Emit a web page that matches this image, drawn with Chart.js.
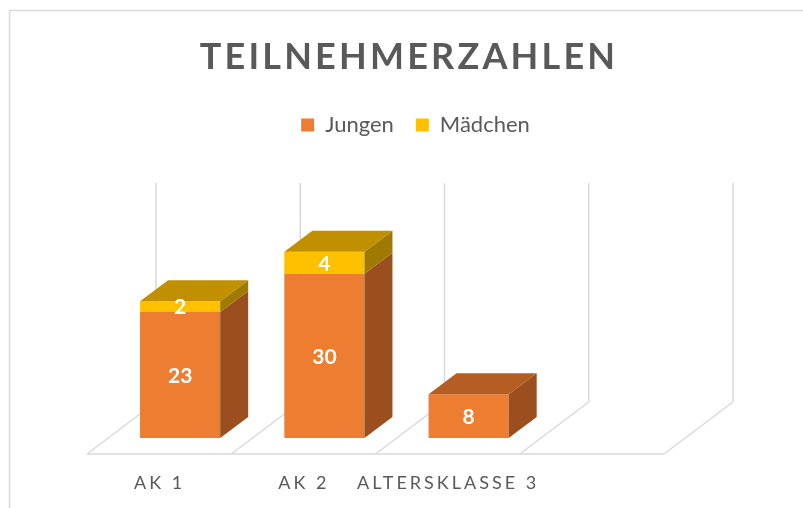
<!DOCTYPE html>
<html>
<head>
<meta charset="utf-8">
<script src="https://cdn.jsdelivr.net/npm/chart.js@4/dist/chart.umd.min.js"></script>
<style>
  html, body { margin: 0; padding: 0; background: #fff; }
  canvas { display: block; }
</style>
</head>
<body>
<canvas id="c" width="803" height="508"></canvas>
<script>
// data
const TITLE = 'TEILNEHMERZAHLEN';
const categories = ['AK 1', 'AK 2', 'ALTERSKLASSE 3', ''];
const seriesNames = ['Jungen', 'Mädchen'];
const jungen = [23, 30, 8, null];
const maedchen = [2, 4, null, null];
const valueMax = 40;

// look
const FONT = 'Lato, "Open Sans", sans-serif';
const TEXT = '#595959';
const LINE = '#d9d9d9';
const FRONT = ['#ed7d31', '#ffc000'];
const SHADE = [
  { side: '#9c4f1e', top: '#b55d22' },
  { side: '#a07900', top: '#c09000' },
];
// oblique projection for the fake 3D look (offsets from the bar front plane)
const DEPTH = { x: 28, y: -21 };  // bar back
const FLOOR = { x: -21, y: 16 };  // floor front edge
const WALL = { x: 48, y: -36 };   // back wall

function poly(ctx, pts, color) {
  ctx.beginPath();
  ctx.moveTo(pts[0][0], pts[0][1]);
  for (let i = 1; i < pts.length; i++) ctx.lineTo(pts[i][0], pts[i][1]);
  ctx.closePath();
  ctx.fillStyle = color;
  ctx.fill();
}

const fake3d = {
  id: 'fake3d',
  beforeInit(chart) {
    // leave room between legend and plot
    const fit = chart.legend.fit;
    chart.legend.fit = function () { fit.call(this); this.height += 73; };
  },
  afterLayout(chart) {
    // legend sits a bit right of the plot centre
    chart.legend.left += 19;
    chart.legend.right += 19;
  },
  beforeDraw(chart) {
    const { ctx } = chart;
    ctx.save();
    ctx.strokeStyle = LINE;
    ctx.lineWidth = 1.5;
    ctx.beginPath();
    ctx.moveTo(9.5, chart.height + 5);
    ctx.lineTo(9.5, 10.5);
    ctx.lineTo(chart.width + 5, 10.5);
    ctx.stroke();

    ctx.font = `bold 36px ${FONT}`;
    ctx.fillStyle = TEXT;
    ctx.textAlign = 'center';
    ctx.textBaseline = 'middle';
    ctx.letterSpacing = '3.2px';
    ctx.fillText(TITLE, 409, 57);
    ctx.restore();
  },
  beforeDatasetsDraw(chart) {
    const { ctx, chartArea: a, scales: { x, y } } = chart;
    const step = x.getPixelForValue(1) - x.getPixelForValue(0);
    const base = y.getPixelForValue(0);
    const top = y.getPixelForValue(valueMax);
    ctx.save();
    ctx.strokeStyle = LINE;
    ctx.lineWidth = 1.5;
    ctx.beginPath();
    for (let i = 0; i <= categories.length; i++) {
      const bx = x.getPixelForValue(0) - step / 2 + i * step;
      ctx.moveTo(bx + FLOOR.x, base + FLOOR.y);
      ctx.lineTo(bx + WALL.x, base + WALL.y);
      ctx.lineTo(bx + WALL.x, top + WALL.y);
    }
    ctx.moveTo(a.left + FLOOR.x, base + FLOOR.y);
    ctx.lineTo(a.right + FLOOR.x, base + FLOOR.y);
    ctx.stroke();

    // category labels along the floor's front edge
    ctx.font = `18px ${FONT}`;
    ctx.fillStyle = TEXT;
    ctx.textAlign = 'center';
    ctx.textBaseline = 'middle';
    ctx.letterSpacing = '3px';
    categories.forEach((c, i) => {
      ctx.fillText(c, x.getPixelForValue(i) + FLOOR.x + 0.5, base + FLOOR.y + 29);
    });
    ctx.restore();
  },
  afterDatasetsDraw(chart) {
    const { ctx } = chart;
    const metas = chart.getSortedVisibleDatasetMetas();
    ctx.save();
    categories.forEach((_, i) => {
      let topIdx = -1;
      metas.forEach((m, d) => { if (chart.data.datasets[m.index].data[i]) topIdx = d; });
      metas.forEach((m, d) => {
        if (!chart.data.datasets[m.index].data[i]) return;
        const { x, y, base, width } = m.data[i].getProps(['x', 'y', 'base', 'width'], true);
        const l = x - width / 2, r = x + width / 2;
        const sh = SHADE[m.index];
        poly(ctx, [[r, y], [r + DEPTH.x, y + DEPTH.y], [r + DEPTH.x, base + DEPTH.y], [r, base]], sh.side);
        if (d === topIdx) {
          poly(ctx, [[l, y], [l + DEPTH.x, y + DEPTH.y], [r + DEPTH.x, y + DEPTH.y], [r, y]], sh.top);
        }
      });
    });

    // value labels on the front faces
    ctx.font = `bold 21px ${FONT}`;
    ctx.fillStyle = '#ffffff';
    ctx.textAlign = 'center';
    ctx.textBaseline = 'middle';
    metas.forEach(m => {
      const data = chart.data.datasets[m.index].data;
      m.data.forEach((bar, i) => {
        if (!data[i]) return;
        const { x, y, base } = bar.getProps(['x', 'y', 'base'], true);
        ctx.fillText(String(data[i]), x, (y + base) / 2 + 1);
      });
    });
    ctx.restore();
  },
};

new Chart(document.getElementById('c'), {
  type: 'bar',
  data: {
    labels: categories,
    datasets: [
      { label: seriesNames[0], data: jungen, backgroundColor: FRONT[0], borderWidth: 0 },
      { label: seriesNames[1], data: maedchen, backgroundColor: FRONT[1], borderWidth: 0 },
    ],
  },
  options: {
    responsive: false,
    animation: false,
    devicePixelRatio: 1,
    events: [],
    datasets: { bar: { categoryPercentage: 1, barPercentage: 1 / 1.8 } },
    layout: { padding: { top: 92, left: 108, right: 118, bottom: 70 } },
    scales: {
      x: { stacked: true, display: false },
      y: { stacked: true, display: false, min: 0, max: valueMax },
    },
    plugins: {
      title: { display: false },
      tooltip: { enabled: false },
      legend: {
        position: 'top',
        labels: {
          color: TEXT,
          font: { family: FONT, size: 22 },
          boxWidth: 13,
          boxHeight: 13,
          padding: 22,
        },
      },
    },
  },
  plugins: [fake3d],
});
</script>
</body>
</html>
